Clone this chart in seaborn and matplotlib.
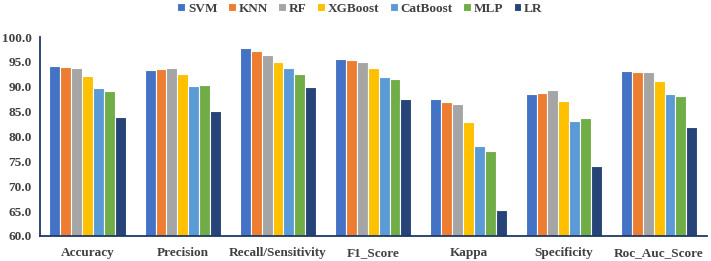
import numpy as np
import pandas as pd
import matplotlib
matplotlib.use("Agg")
import matplotlib.pyplot as plt
import seaborn as sns

# metrics on the x axis
metrics = ['Accuracy', 'Precision', 'Recall/Sensitivity', 'F1_Score',
           'Kappa', 'Specificity', 'Roc_Auc_Score']
models = ['SVM', 'KNN', 'RF', 'XGBoost', 'CatBoost', 'MLP', 'LR']

# one list per model, in the order of metrics
svm = [94.2, 93.4, 97.8, 95.5, 87.6, 88.5, 93.2]
knn = [94.0, 93.5, 97.1, 95.3, 87.0, 88.7, 92.9]
rf = [93.8, 93.8, 96.4, 95.0, 86.6, 89.4, 92.9]
xgboost = [92.1, 92.5, 95.0, 93.8, 83.0, 87.1, 91.1]
catboost = [89.7, 90.2, 93.8, 92.0, 78.0, 83.1, 88.5]
mlp = [89.2, 90.3, 92.6, 91.5, 77.0, 83.7, 88.1]
lr = [83.9, 85.1, 90.0, 87.5, 65.2, 74.0, 82.0]

colores = ['#4472C4', '#ED7D31', '#A5A5A5', '#FFC000', '#5B9BD5', '#70AD47', '#264478']

valores = [svm, knn, rf, xgboost, catboost, mlp, lr]
filas = []
for m, v in zip(models, valores):
    for met, x in zip(metrics, v):
        filas.append({'Metric': met, 'Model': m, 'Score': x})
df = pd.DataFrame(filas)

sns.set_style('white')
plt.rcParams['font.family'] = ['Liberation Serif', 'DejaVu Serif']
plt.rcParams['font.weight'] = 'bold'

fig = plt.figure(figsize=(7.11, 2.61), dpi=100)
ax = fig.add_axes([0.056, 0.096, 0.938, 0.762])

sns.barplot(data=df, x='Metric', y='Score', hue='Model', order=metrics,
            hue_order=models, palette=colores, width=0.8, ax=ax,
            edgecolor='white', linewidth=0.8, saturation=1)

navy = '#1F3864'
ax.set_ylim(60, 100)
ax.set_xlim(-0.5, 6.5)
ax.set_yticks(np.arange(60, 100.1, 5))
ax.set_yticklabels(['%.1f' % t for t in np.arange(60, 100.1, 5)],
                   fontsize=9.5, fontweight='bold', color='#404040')
ax.set_xticks(range(len(metrics)))
ax.set_xticklabels(metrics, fontsize=9.5, fontweight='bold', color='#404040')
ax.set_xticks(np.arange(-0.5, 7, 1), minor=True)
ax.tick_params(axis='x', which='major', length=0, pad=8)
ax.tick_params(axis='x', which='minor', length=4, color=navy, width=1.2, direction='out')
ax.tick_params(axis='y', length=4, color=navy, width=1.2, direction='out', pad=2)
ax.set_xlabel('')
ax.set_ylabel('')
for s in ['top', 'right']:
    ax.spines[s].set_visible(False)
for s in ['left', 'bottom']:
    ax.spines[s].set_color(navy)
    ax.spines[s].set_linewidth(1.3)

leg = ax.legend(loc='upper center', bbox_to_anchor=(0.48, 1.2), ncol=7,
                frameon=False, handlelength=0.6, handleheight=0.6,
                handletextpad=0.2, columnspacing=0.8, borderaxespad=0,
                prop={'size': 9.5, 'weight': 'bold'})
for t in leg.get_texts():
    t.set_color('#404040')

fig.savefig('out.png', dpi=100)
